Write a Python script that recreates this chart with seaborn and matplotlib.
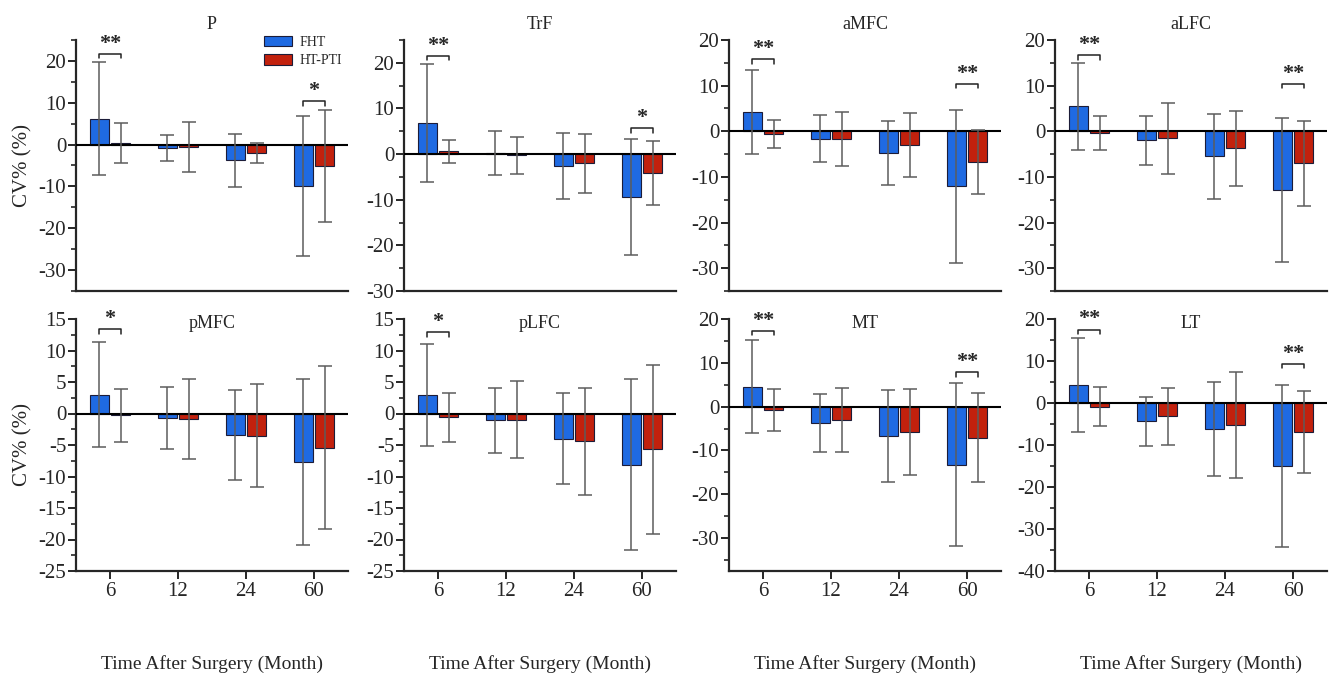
import pandas as pd
import seaborn as sns
import matplotlib.pyplot as plt
from matplotlib.ticker import MultipleLocator

sns.set_style('ticks')
plt.rcParams['font.family'] = ['Liberation Serif', 'DejaVu Serif']
plt.rcParams['axes.unicode_minus'] = False

regions = ['P', 'TrF', 'aMFC', 'aLFC', 'pMFC', 'pLFC', 'MT', 'LT']
months = ['6', '12', '24', '60']
groups = ['FHT', 'HT-PTI']

# mean CV% per region, months 6/12/24/60
fht_mean = {
    'P':    [6.2, -0.9, -3.8, -9.9],
    'TrF':  [6.8, 0.2, -2.6, -9.5],
    'aMFC': [4.3, -1.6, -4.8, -12.1],
    'aLFC': [5.5, -2.0, -5.5, -12.8],
    'pMFC': [3.0, -0.75, -3.4, -7.7],
    'pLFC': [2.9, -1.1, -4.0, -8.1],
    'MT':   [4.5, -3.7, -6.6, -13.2],
    'LT':   [4.3, -4.4, -6.2, -14.9],
}
fht_sd = {
    'P':    [13.5, 3.1, 6.3, 16.8],
    'TrF':  [12.9, 4.8, 7.2, 12.7],
    'aMFC': [9.2, 5.2, 7.0, 16.8],
    'aLFC': [9.5, 5.4, 9.3, 15.8],
    'pMFC': [8.3, 4.9, 7.1, 13.2],
    'pLFC': [8.1, 5.2, 7.2, 13.5],
    'MT':   [10.6, 6.6, 10.5, 18.5],
    'LT':   [11.2, 5.9, 11.2, 19.3],
}
pti_mean = {
    'P':    [0.3, -0.6, -2.1, -5.2],
    'TrF':  [0.6, -0.3, -2.0, -4.2],
    'aMFC': [-0.6, -1.7, -3.0, -6.8],
    'aLFC': [-0.4, -1.5, -3.7, -7.0],
    'pMFC': [-0.3, -0.9, -3.5, -5.4],
    'pLFC': [-0.6, -1.0, -4.4, -5.7],
    'MT':   [-0.75, -3.0, -5.7, -7.1],
    'LT':   [-0.85, -3.2, -5.2, -6.85],
}
pti_sd = {
    'P':    [4.8, 5.9, 2.4, 13.4],
    'TrF':  [2.5, 4.1, 6.5, 7.0],
    'aMFC': [3.1, 6.0, 7.0, 7.0],
    'aLFC': [3.8, 7.8, 8.2, 9.3],
    'pMFC': [4.2, 6.3, 8.2, 12.9],
    'pLFC': [3.9, 6.1, 8.5, 13.4],
    'MT':   [4.85, 7.3, 9.8, 10.2],
    'LT':   [4.65, 6.8, 12.7, 9.75],
}

# significance marks and bracket levels
sig_marks = {
    'P': ['**', '', '', '*'], 'TrF': ['**', '', '', '*'],
    'aMFC': ['**', '', '', '**'], 'aLFC': ['**', '', '', '**'],
    'pMFC': ['*', '', '', ''], 'pLFC': ['*', '', '', ''],
    'MT': ['**', '', '', '**'], 'LT': ['**', '', '', '**'],
}
sig_level = {
    'P': [21.7, 0, 0, 10.3], 'TrF': [21.5, 0, 0, 5.7],
    'aMFC': [15.8, 0, 0, 10.4], 'aLFC': [16.7, 0, 0, 10.4],
    'pMFC': [13.4, 0, 0, 0], 'pLFC': [12.9, 0, 0, 0],
    'MT': [17.3, 0, 0, 7.8], 'LT': [17.5, 0, 0, 9.4],
}

ylims = {'P': (-35, 25), 'TrF': (-30, 25), 'aMFC': (-35, 20), 'aLFC': (-35, 20),
         'pMFC': (-25, 15), 'pLFC': (-25, 15), 'MT': (-37.5, 20), 'LT': (-40, 20)}
ysteps = {'P': 10, 'TrF': 10, 'aMFC': 10, 'aLFC': 10,
          'pMFC': 5, 'pLFC': 5, 'MT': 10, 'LT': 10}

rows = []
for reg in regions:
    for i, m in enumerate(months):
        rows.append((reg, m, 'FHT', fht_mean[reg][i], fht_sd[reg][i]))
        rows.append((reg, m, 'HT-PTI', pti_mean[reg][i], pti_sd[reg][i]))
df = pd.DataFrame(rows, columns=['region', 'month', 'group', 'mean', 'sd'])

palette = {'FHT': '#1f6ae2', 'HT-PTI': '#c2210d'}

W, H = 1330, 677
fig = plt.figure(figsize=(W / 100, H / 100), dpi=100)
lefts = [76, 404, 729, 1055]
row_box = [(291, 40), (571, 319)]  # (bottom px, top px)

for k, reg in enumerate(regions):
    r, c = divmod(k, 4)
    bot, top = row_box[r]
    ax = fig.add_axes([lefts[c] / W, (H - bot) / H, 272 / W, (bot - top) / H])
    sub = df[df.region == reg]
    sns.barplot(data=sub, x='month', y='mean', hue='group', order=months,
                hue_order=groups, palette=palette, saturation=1, width=0.62, gap=0.1,
                errorbar=None, edgecolor='#1c1c38', linewidth=0.8,
                legend=False, ax=ax)
    bars = list(ax.containers)
    centers = {}
    for cont, g in zip(bars, groups):
        s = sub[sub.group == g].set_index('month').loc[months]
        xs = [b.get_x() + b.get_width() / 2 for b in cont]
        centers[g] = xs
        ax.errorbar(xs, s['mean'], yerr=s['sd'], fmt='none', ecolor='#5c5c5c',
                    elinewidth=1.1, capsize=5, capthick=1.1, zorder=4)
    ax.axhline(0, color='black', lw=1.5, zorder=3)

    lo, hi = ylims[reg]
    leg = 0.018 * (hi - lo)
    for i, mark in enumerate(sig_marks[reg]):
        if not mark:
            continue
        x1, x2 = centers['FHT'][i], centers['HT-PTI'][i]
        y = sig_level[reg][i]
        ax.plot([x1, x1, x2, x2], [y - leg, y, y, y - leg], color='#222222', lw=1.1,
                zorder=5, clip_on=False)
        ax.annotate(mark, ((x1 + x2) / 2, y), xytext=(0, 0), textcoords='offset points',
                    ha='center', va='bottom', fontsize=16, fontweight='bold',
                    annotation_clip=False)

    ax.set_ylim(lo, hi)
    ax.set_xlim(-0.5, 3.5)
    st = ysteps[reg]
    ax.yaxis.set_major_locator(MultipleLocator(st))
    ax.yaxis.set_minor_locator(MultipleLocator(st / 2))
    sns.despine(ax=ax)
    for sp in ('left', 'bottom'):
        ax.spines[sp].set_linewidth(1.6)
    ax.tick_params(axis='y', which='major', length=6, width=1.4, labelsize=15, pad=1)
    ax.tick_params(axis='y', which='minor', length=3.5, width=1.2)

    if r == 1:
        ax.tick_params(axis='x', length=6, width=1.4, labelsize=15, pad=2)
        ax.set_xlabel('Time After Surgery (Month)', fontsize=14, labelpad=39)
        ty = 0.984
    else:
        ax.set_xticks([])
        ax.set_xlabel('')
        ty = 1.06
    ax.text(0.5, ty, reg, transform=ax.transAxes, ha='center', va='center', fontsize=13)

    if c == 0:
        ax.set_ylabel('CV% (%)', fontsize=15, labelpad=4)
    else:
        ax.set_ylabel('')

    if k == 0:
        ax.legend(bars, groups, loc='upper right', bbox_to_anchor=(1.0, 1.04),
                  frameon=False, fontsize=10, handlelength=2.0, handleheight=0.8,
                  handletextpad=0.6, labelspacing=0.4, borderaxespad=0)

fig.savefig('out.png', dpi=100)
